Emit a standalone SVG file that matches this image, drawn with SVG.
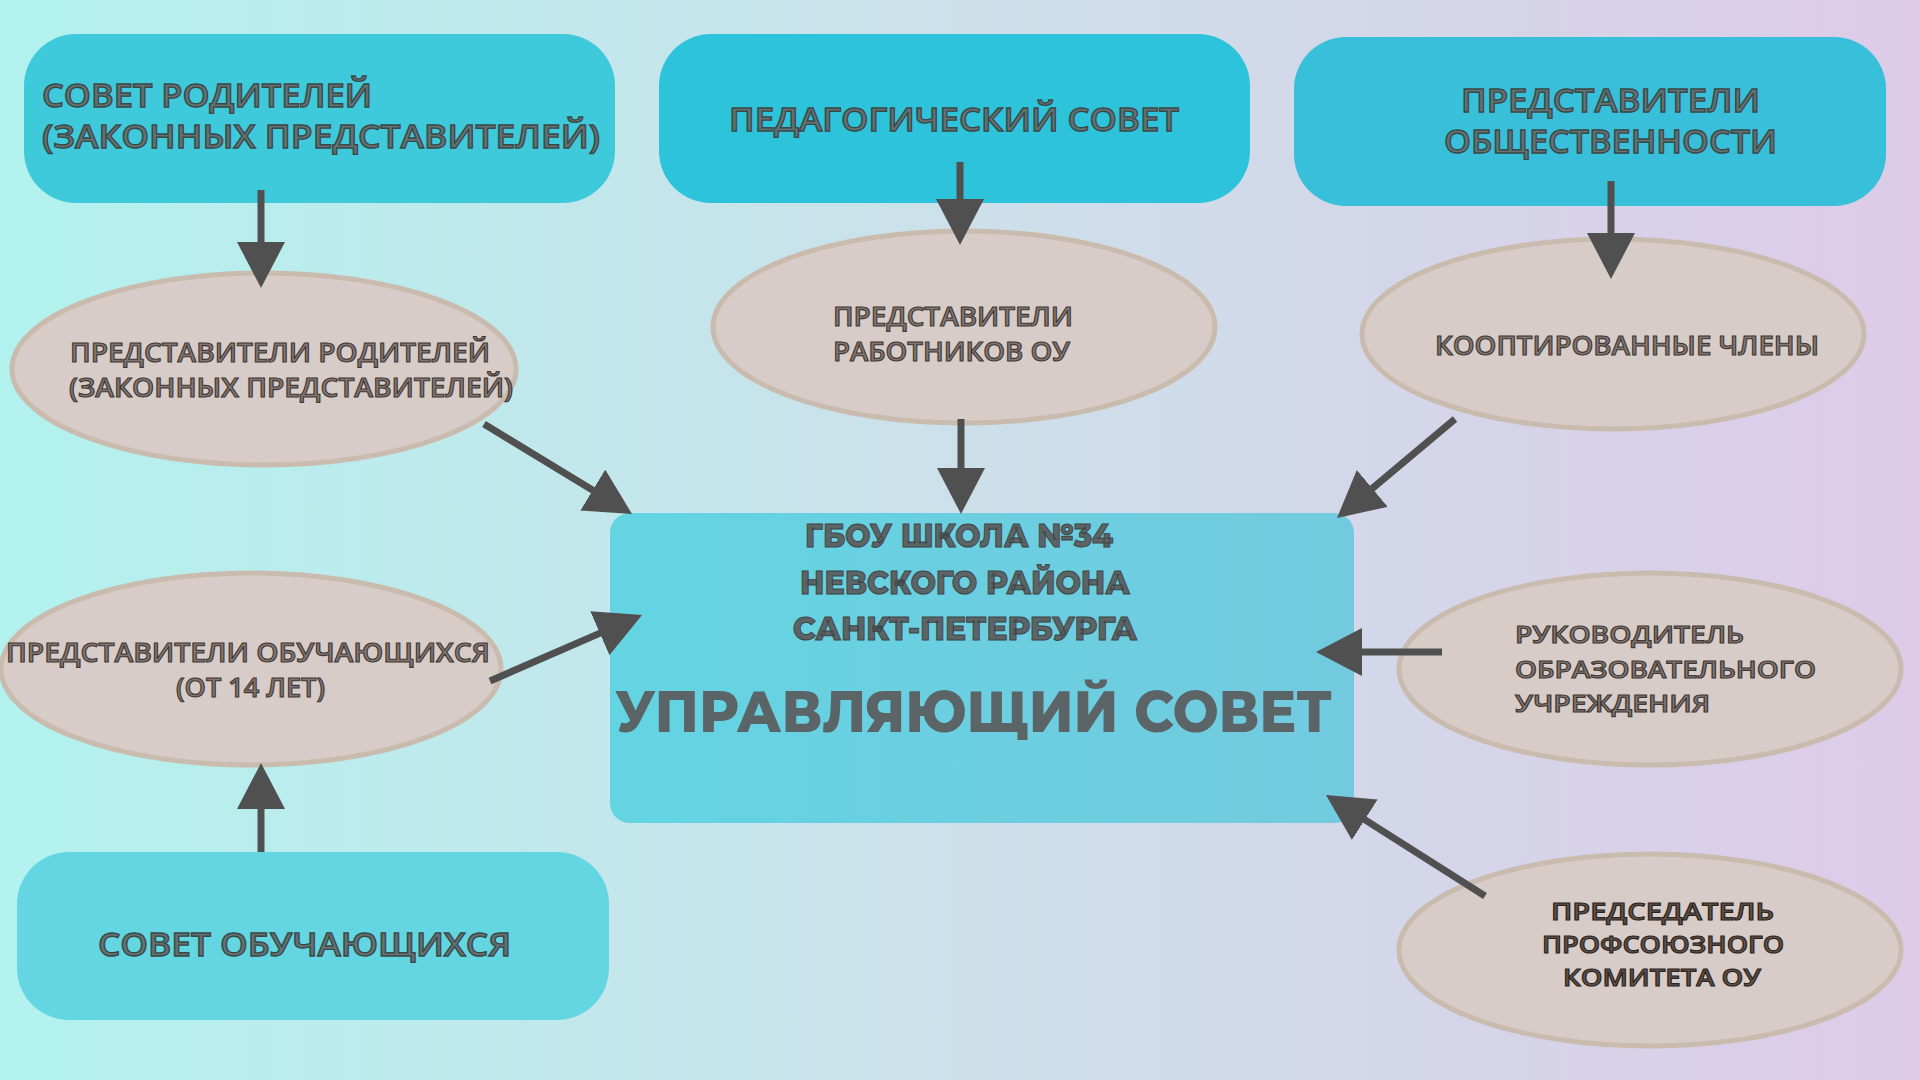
<svg xmlns="http://www.w3.org/2000/svg" width="1920" height="1080" viewBox="0 0 1920 1080">
<defs>
<linearGradient id="bg" x1="0" y1="0" x2="1" y2="0">
<stop offset="0" stop-color="#b2f2ee"/>
<stop offset="0.5" stop-color="#cce0ea"/>
<stop offset="1" stop-color="#ddcbe8"/>
</linearGradient>
<linearGradient id="cg" x1="0" y1="0" x2="1" y2="0">
<stop offset="0" stop-color="#63d4e2"/>
<stop offset="1" stop-color="#73cadf"/>
</linearGradient>
<marker id="ah" markerUnits="userSpaceOnUse" markerWidth="48" markerHeight="50" refX="16" refY="24" orient="auto">
<path d="M0,0 L46,24 L0,48 Z" fill="#505050"/>
</marker>
<style>
.box text{font-family:"Open Sans","DejaVu Sans",sans-serif;font-weight:600;font-size:32px;fill:#617373;stroke:#3c4848;stroke-width:1.3px}
.ell ellipse{fill:#d8ccc8;stroke:#c9bcae;stroke-width:5}
.ell text{font-family:"Open Sans","DejaVu Sans",sans-serif;font-weight:600;font-size:27px;fill:#837672;stroke:#3e3834;stroke-width:1.1px}
.ell .sm{font-size:24px}
.dark text{fill:#605248;stroke:#2a2420}
.conn line{stroke:#505050;stroke-width:7;marker-end:url(#ah)}
.ctr text{font-family:"Montserrat","Open Sans","DejaVu Sans",sans-serif;font-weight:800;fill:#5b6467}
.ctr .sub{font-size:33px;stroke:#3e4646;stroke-width:1px}
.ctr .main{font-size:58px}
</style>
</defs>
<rect x="0" y="0" width="1920" height="1080" fill="url(#bg)"/>

<g id="sovet-roditeley" class="box">
<rect x="24" y="34" width="591" height="169" rx="52" fill="#3fcadc"/>
<text x="42" y="107" textLength="330" lengthAdjust="spacingAndGlyphs">СОВЕТ РОДИТЕЛЕЙ</text>
<text x="42" y="148" textLength="558" lengthAdjust="spacingAndGlyphs">(ЗАКОННЫХ  ПРЕДСТАВИТЕЛЕЙ)</text>
</g>
<g id="ped-sovet" class="box">
<rect x="659" y="34" width="591" height="169" rx="52" fill="#2dc3da"/>
<text x="729" y="131" textLength="450" lengthAdjust="spacingAndGlyphs">ПЕДАГОГИЧЕСКИЙ  СОВЕТ</text>
</g>
<g id="pred-obsch" class="box">
<rect x="1294" y="37" width="592" height="169" rx="52" fill="#38c0da"/>
<text x="1461" y="112" textLength="299" lengthAdjust="spacingAndGlyphs">ПРЕДСТАВИТЕЛИ</text>
<text x="1444" y="153" textLength="333" lengthAdjust="spacingAndGlyphs">ОБЩЕСТВЕННОСТИ</text>
</g>
<g id="sovet-obuch" class="box">
<rect x="17" y="852" width="592" height="168" rx="52" fill="#63d6e2"/>
<text x="98" y="956" textLength="413" lengthAdjust="spacingAndGlyphs">СОВЕТ  ОБУЧАЮЩИХСЯ</text>
</g>

<g id="upr-sovet" class="ctr">
<rect x="610" y="513" width="744" height="310" rx="20" fill="url(#cg)"/>
<text class="sub" x="805" y="547" textLength="308" lengthAdjust="spacingAndGlyphs">ГБОУ ШКОЛА №34</text>
<text class="sub" x="800" y="594" textLength="330" lengthAdjust="spacingAndGlyphs">НЕВСКОГО РАЙОНА</text>
<text class="sub" x="793" y="640" textLength="344" lengthAdjust="spacingAndGlyphs">САНКТ-ПЕТЕРБУРГА</text>
<text class="main" x="615" y="732" textLength="717" lengthAdjust="spacingAndGlyphs">УПРАВЛЯЮЩИЙ СОВЕТ</text>
</g>

<g id="pred-rod" class="ell">
<ellipse cx="264" cy="369" rx="252" ry="96"/>
<text x="70" y="362" textLength="420" lengthAdjust="spacingAndGlyphs">ПРЕДСТАВИТЕЛИ РОДИТЕЛЕЙ</text>
<text x="69" y="397" textLength="444" lengthAdjust="spacingAndGlyphs">(ЗАКОННЫХ ПРЕДСТАВИТЕЛЕЙ)</text>
</g>
<g id="pred-rab" class="ell">
<ellipse cx="964" cy="327" rx="251" ry="96"/>
<text x="833" y="326" textLength="240" lengthAdjust="spacingAndGlyphs">ПРЕДСТАВИТЕЛИ</text>
<text x="833" y="361" textLength="237" lengthAdjust="spacingAndGlyphs">РАБОТНИКОВ ОУ</text>
</g>
<g id="koopt" class="ell">
<ellipse cx="1613" cy="334" rx="251" ry="95"/>
<text x="1435" y="355" textLength="384" lengthAdjust="spacingAndGlyphs">КООПТИРОВАННЫЕ ЧЛЕНЫ</text>
</g>
<g id="pred-obuch" class="ell">
<ellipse cx="251" cy="669" rx="250" ry="96"/>
<text x="6" y="662" textLength="484" lengthAdjust="spacingAndGlyphs">ПРЕДСТАВИТЕЛИ  ОБУЧАЮЩИХСЯ</text>
<text x="176" y="697" textLength="149" lengthAdjust="spacingAndGlyphs">(ОТ 14 ЛЕТ)</text>
</g>
<g id="rukovod" class="ell">
<ellipse cx="1650" cy="669" rx="251" ry="96"/>
<text class="sm" x="1515" y="643" textLength="229" lengthAdjust="spacingAndGlyphs">РУКОВОДИТЕЛЬ</text>
<text class="sm" x="1515" y="678" textLength="301" lengthAdjust="spacingAndGlyphs">ОБРАЗОВАТЕЛЬНОГО</text>
<text class="sm" x="1515" y="712" textLength="195" lengthAdjust="spacingAndGlyphs">УЧРЕЖДЕНИЯ</text>
</g>
<g id="predsedatel" class="ell dark">
<ellipse cx="1650" cy="950" rx="251" ry="96"/>
<text class="sm" x="1551" y="920" textLength="223" lengthAdjust="spacingAndGlyphs">ПРЕДСЕДАТЕЛЬ</text>
<text class="sm" x="1542" y="953" textLength="242" lengthAdjust="spacingAndGlyphs">ПРОФСОЮЗНОГО</text>
<text class="sm" x="1563" y="986" textLength="198" lengthAdjust="spacingAndGlyphs">КОМИТЕТА ОУ</text>
</g>

<g id="connectors" class="conn">
<line x1="261" y1="190" x2="261" y2="258"/>
<line x1="960" y1="162" x2="960" y2="215"/>
<line x1="961" y1="419" x2="961" y2="484"/>
<line x1="1611" y1="181" x2="1611" y2="249"/>
<line x1="484" y1="424" x2="606.4" y2="498.4"/>
<line x1="1455" y1="419" x2="1360" y2="498.7"/>
<line x1="490" y1="681" x2="614.5" y2="626.9"/>
<line x1="261" y1="852" x2="261" y2="793"/>
<line x1="1442" y1="652" x2="1346" y2="652"/>
<line x1="1485" y1="896" x2="1351.3" y2="811.1"/>
</g>
</svg>
